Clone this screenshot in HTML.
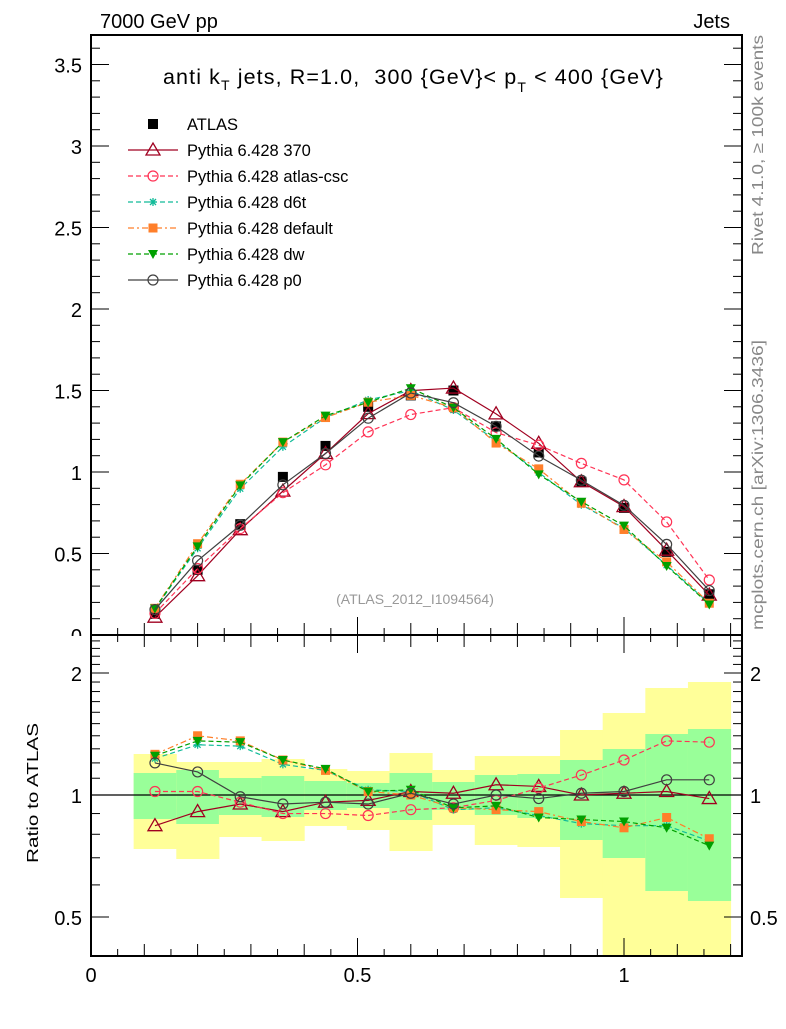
<!DOCTYPE html>
<html><head><meta charset="utf-8"><style>
body{margin:0;background:#fff;width:786px;height:1024px;overflow:hidden}
svg{font-family:"Liberation Sans",sans-serif}
</style></head><body>
<svg id="s" width="786" height="1024" xmlns="http://www.w3.org/2000/svg"></svg>
<script>
const S=document.getElementById('s');let h='';
const X=v=>91+533*v, Y=v=>635-163*v, R=r=>795-122*Math.log2(r);
const bands=[[754,849,773,819],[762,859,770,824],[762,837,778,815],[759,841,776,817],[769,826,781,810],[771,830,783,808],[753,851,773,820],[770,825,782,810],[756,845,775,815],[756,847,774,818],[730,898,760,840],[713,956,749,858],[688,956,734,891],[682,956,729,901]];
bands.forEach((b,i)=>{const x0=X(0.08+0.08*i),w=533*0.08;
h+=`<rect x="${x0}" y="${b[0]}" width="${w+0.5}" height="${b[1]-b[0]}" fill="#ffff99"/>`;
h+=`<rect x="${x0}" y="${b[2]}" width="${w+0.5}" height="${b[3]-b[2]}" fill="#99ff99"/>`;});
h+=`<line x1="91" x2="742" y1="795" y2="795" stroke="#000" stroke-width="1.3"/>`;
const xs=[];for(let i=0;i<14;i++)xs.push(0.12+0.08*i);
const A=[0.13,0.4,0.68,0.97,1.16,1.4,1.47,1.5,1.28,1.12,0.94,0.78,0.51,0.25];
const ser=[
{c:'#a00020',d:'',m:'tri',r:[0.84,0.91,0.95,0.91,0.96,0.97,1.02,1.01,1.06,1.05,1.0,1.01,1.02,0.98]},
{c:'#ff3355',d:'5,3',m:'circ',r:[1.02,1.02,0.96,0.90,0.90,0.89,0.92,0.93,0.97,1.04,1.12,1.22,1.36,1.35]},
{c:'#11bb99',d:'5,3',m:'star',r:[1.23,1.33,1.32,1.19,1.15,1.03,1.02,0.92,0.93,0.89,0.85,0.84,0.84,0.77]},
{c:'#ff7f2a',d:'6,3,2,3',m:'sq',r:[1.26,1.40,1.36,1.22,1.15,1.02,1.0,0.93,0.92,0.91,0.86,0.83,0.88,0.78]},
{c:'#00a000',d:'5,3',m:'tdn',r:[1.25,1.36,1.35,1.22,1.16,1.02,1.03,0.93,0.94,0.88,0.87,0.86,0.83,0.75]},
{c:'#404040',d:'',m:'circ',r:[1.20,1.14,0.99,0.95,0.96,0.95,1.01,0.95,1.0,0.98,1.01,1.02,1.09,1.09]}];
function mk(m,x,y,c){
 if(m=='tri')return `<polygon points="${x-7},${y+5} ${x+7},${y+5} ${x},${y-7}" fill="none" stroke="${c}" stroke-width="1.3"/>`;
 if(m=='circ')return `<circle cx="${x}" cy="${y}" r="5" fill="none" stroke="${c}" stroke-width="1.2"/>`;
 if(m=='star')return `<path d="M${x-4} ${y}H${x+4}M${x} ${y-4}V${y+4}M${x-3} ${y-3}L${x+3} ${y+3}M${x-3} ${y+3}L${x+3} ${y-3}" stroke="${c}" stroke-width="1.3"/>`;
 if(m=='sq')return `<rect x="${x-4.5}" y="${y-4.5}" width="9" height="9" fill="${c}"/>`;
 if(m=='tdn')return `<polygon points="${x-5},${y-4} ${x+5},${y-4} ${x},${y+5}" fill="${c}"/>`;
 if(m=='bsq')return `<rect x="${x-5}" y="${y-5}" width="10" height="10" fill="#000"/>`;
}
A.forEach((a,i)=>h+=mk('bsq',X(xs[i]),Y(a)));
ser.forEach(s=>{
 let p1=xs.map((x,i)=>X(x)+','+Y(A[i]*s.r[i])).join(' ');
 let p2=xs.map((x,i)=>X(x)+','+R(s.r[i])).join(' ');
 const da=s.d?`stroke-dasharray="${s.d}"`:'';
 h+=`<polyline points="${p1}" fill="none" stroke="${s.c}" stroke-width="1.2" ${da}/>`;
 h+=`<polyline points="${p2}" fill="none" stroke="${s.c}" stroke-width="1.2" ${da}/>`;
 xs.forEach((x,i)=>{h+=mk(s.m,X(x),Y(A[i]*s.r[i]),s.c);h+=mk(s.m,X(x),R(s.r[i]),s.c);});
});
h+=`<rect x="91" y="35" width="651" height="600" fill="none" stroke="#000" stroke-width="2"/>`;
h+=`<rect x="91" y="635" width="651" height="321" fill="none" stroke="#000" stroke-width="2"/>`;
for(let k=0;k<=36;k++){const y=Y(k/10),L=(k%5==0)?18:9;
 h+=`<line x1="91" x2="${91+L}" y1="${y}" y2="${y}" stroke="#000"/><line x1="${742-L}" x2="742" y1="${y}" y2="${y}" stroke="#000"/>`;}
['0.5','1','1.5','2','2.5','3','3.5'].forEach(t=>h+=`<text x="82" y="${Y(+t)+8}" font-size="20" text-anchor="end">${t}</text>`);
h+=`<clipPath id="c0"><rect x="0" y="0" width="90" height="636"/></clipPath><text x="82" y="643" font-size="20" text-anchor="end" clip-path="url(#c0)">0</text>`;
for(let k=0;k<=24;k++){const x=X(k*0.05),L=(k%10==0)?18:(k%2==0?12:7);
 h+=`<line x1="${x}" x2="${x}" y1="${635-L}" y2="635" stroke="#000"/><line x1="${x}" x2="${x}" y1="635" y2="${635+L}" stroke="#000"/><line x1="${x}" x2="${x}" y1="${956-L}" y2="956" stroke="#000"/>`;}
[['0',0],['0.5',0.5],['1',1]].forEach(t=>h+=`<text x="${X(t[1])}" y="982" font-size="20" text-anchor="middle">${t[0]}</text>`);
[0.4,0.5,0.6,0.7,0.8,0.9,1,1.1,1.2,1.3,1.4,1.5,1.6,1.7,1.8,1.9,2,2.1,2.2,2.3,2.4].forEach(r=>{const y=R(r),L=[0.5,1,2].includes(r)?18:9;
 h+=`<line x1="91" x2="${91+L}" y1="${y}" y2="${y}" stroke="#000"/><line x1="${742-L}" x2="742" y1="${y}" y2="${y}" stroke="#000"/>`;});
[['2',2],['1',1],['0.5',0.5]].forEach(t=>{h+=`<text x="82" y="${R(t[1])+8}" font-size="20" text-anchor="end">${t[0]}</text><text x="750" y="${R(t[1])+8}" font-size="20">${t[0]}</text>`;});
h+=`<text x="100" y="28" font-size="20">7000 GeV pp</text><text x="730" y="28" font-size="20" text-anchor="end">Jets</text>`;
h+=`<text x="163" y="84" font-size="21.5" letter-spacing="1.1" xml:space="preserve">anti k<tspan font-size="14" dy="6">T</tspan><tspan dy="-6"> jets, R=1.0,  300 {GeV}&lt; p</tspan><tspan font-size="14" dy="8">T</tspan><tspan dy="-8"> &lt; 400 {GeV}</tspan></text>`;
h+=`<text x="415" y="604" font-size="14" fill="#999" text-anchor="middle">(ATLAS_2012_I1094564)</text>`;
h+=`<text transform="translate(38,793) rotate(-90)" font-size="16" text-anchor="middle" textLength="140" lengthAdjust="spacingAndGlyphs">Ratio to ATLAS</text>`;
h+=`<text transform="translate(763,145) rotate(-90)" font-size="16" fill="#888" text-anchor="middle" textLength="220" lengthAdjust="spacingAndGlyphs">Rivet 4.1.0, ≥ 100k events</text>`;
h+=`<text transform="translate(763,485) rotate(-90)" font-size="16" fill="#888" text-anchor="middle" textLength="290" lengthAdjust="spacingAndGlyphs">mcplots.cern.ch [arXiv:1306.3436]</text>`;
const lg=[['ATLAS',null],['Pythia 6.428 370',0],['Pythia 6.428 atlas-csc',1],['Pythia 6.428 d6t',2],['Pythia 6.428 default',3],['Pythia 6.428 dw',4],['Pythia 6.428 p0',5]];
lg.forEach((l,i)=>{const y=124+26*i;
 if(l[1]===null)h+=mk('bsq',153,y);else{const s=ser[l[1]];
 h+=`<line x1="128" x2="178" y1="${y}" y2="${y}" stroke="${s.c}" stroke-width="1.2" ${s.d?`stroke-dasharray="${s.d}"`:''}/>`+mk(s.m,153,y,s.c);}
 h+=`<text x="187" y="${y+6}" font-size="16.5">${l[0]}</text>`;});
S.innerHTML=h;
</script>
</body></html>
